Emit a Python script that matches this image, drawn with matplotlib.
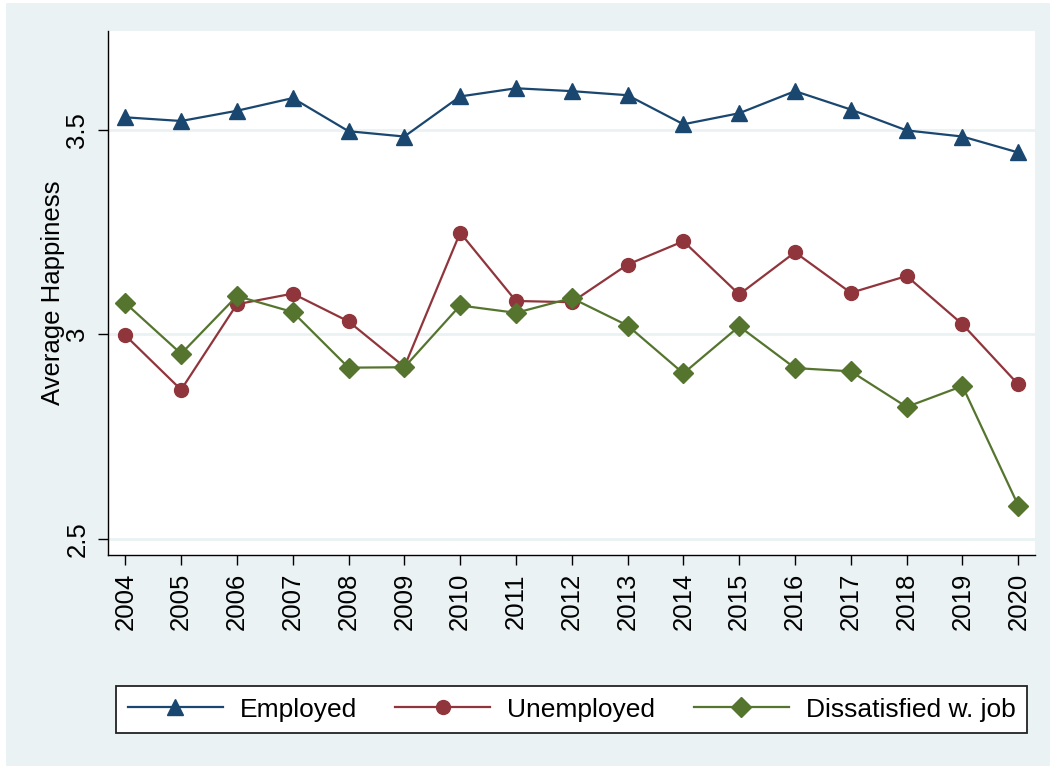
import matplotlib.pyplot as plt
from matplotlib.patches import Rectangle

years = list(range(2004, 2021))

# average happiness by group
employed = [3.530, 3.521, 3.546, 3.577, 3.496, 3.483, 3.581, 3.601, 3.594,
            3.584, 3.513, 3.540, 3.594, 3.549, 3.498, 3.483, 3.444]
unemployed = [2.997, 2.864, 3.073, 3.099, 3.031, 2.920, 3.248, 3.081, 3.078,
              3.170, 3.227, 3.097, 3.200, 3.101, 3.142, 3.024, 2.877]
dissatisfied = [3.076, 2.952, 3.093, 3.054, 2.918, 2.919, 3.070, 3.052, 3.088,
                3.021, 2.904, 3.019, 2.917, 2.909, 2.822, 2.873, 2.581]

labels = ['Employed', 'Unemployed', 'Dissatisfied w. job']

plt.rcParams['font.family'] = ['Liberation Sans', 'DejaVu Sans']

bg = '#EAF2F3'
fig = plt.figure(figsize=(10.5, 7.69), dpi=100, facecolor='white')
fig.patches.append(Rectangle((6 / 1050, 0.004), 1.0, 0.992, transform=fig.transFigure,
                             facecolor=bg, edgecolor='none', zorder=-10))

ax = fig.add_axes([108 / 1050, 1 - 555 / 769, (1035 - 108) / 1050, (555 - 31) / 769])
ax.set_facecolor('white')

ax.plot(years, employed, color='#1A476F', lw=1.6, marker='^', ms=12, label=labels[0])
ax.plot(years, unemployed, color='#90353B', lw=1.6, marker='o', ms=10, label=labels[1])
ax.plot(years, dissatisfied, color='#55752F', lw=1.6, marker='D', ms=10, label=labels[2])

ax.set_xlim(2003.69, 2020.3)
ax.set_ylim(2.46, 3.741)
ax.set_xticks(years)
ax.set_yticks([2.5, 3, 3.5])
ax.set_yticklabels(['2.5', '3', '3.5'], rotation=90, va='center')
ax.tick_params(axis='x', labelrotation=90, labelsize=18.5, length=7, width=1, pad=6)
ax.tick_params(axis='y', labelsize=18.5, length=7.5, width=1, pad=6)
ax.grid(axis='y', color=bg, lw=2)
ax.set_axisbelow(True)

for s in ['top', 'right']:
    ax.spines[s].set_visible(False)
for s in ['left', 'bottom']:
    ax.spines[s].set_linewidth(1)

ax.set_ylabel('Average Happiness', fontsize=18.5, labelpad=0)

leg = fig.legend(loc='center', bbox_to_anchor=(571.5 / 1050, 1 - 709.5 / 769), ncol=3,
                 fontsize=19, frameon=True, fancybox=False, edgecolor='#222222',
                 framealpha=1, handlelength=3.6, handletextpad=0.65, columnspacing=1.45,
                 borderpad=0.45)
leg.get_frame().set_linewidth(1.3)

plt.savefig('out.png', dpi=100, facecolor=fig.get_facecolor())
